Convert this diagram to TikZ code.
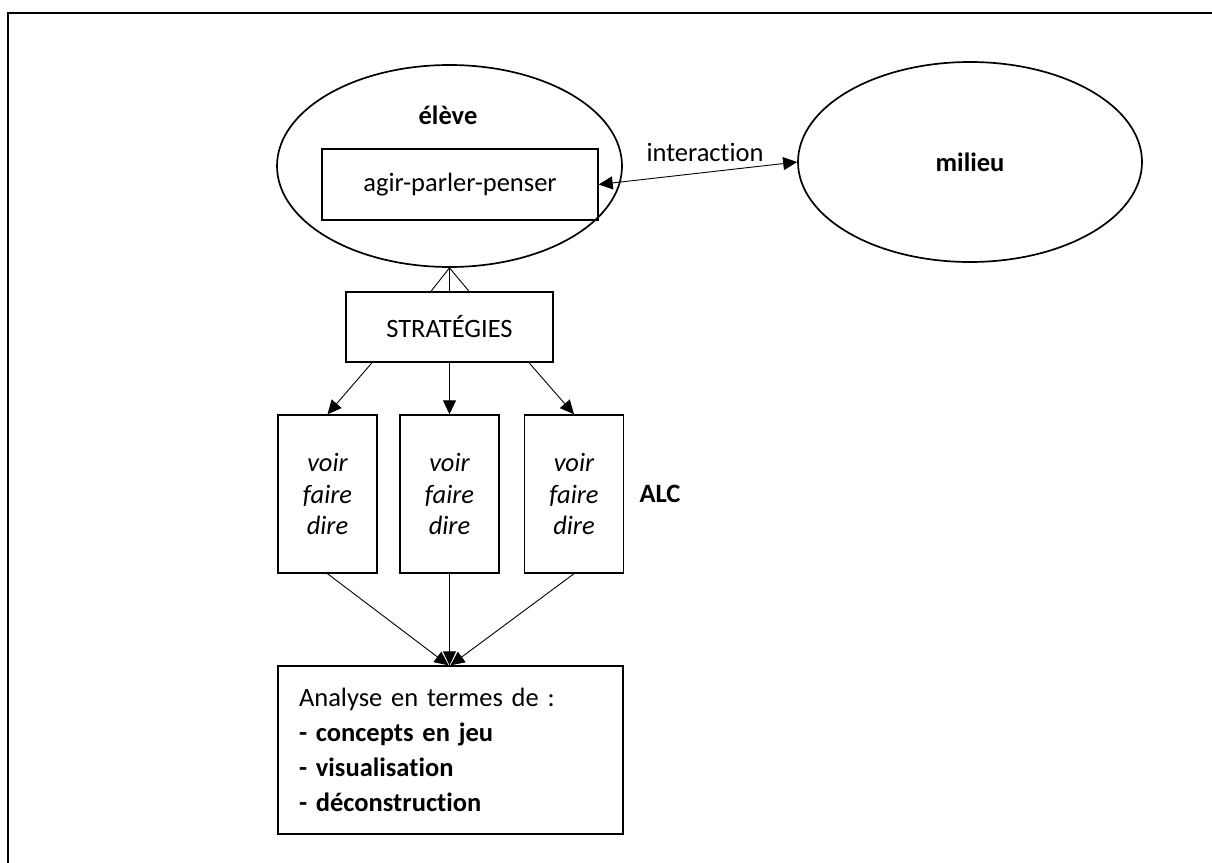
\documentclass[tikz,border=0pt]{standalone}
\usepackage{fontspec}
\setmainfont{Carlito}[Ligatures={NoCommon,NoContextual}]
\usetikzlibrary{shapes.geometric,arrows.meta}
\begin{document}
\begin{tikzpicture}[x=1pt,y=-1pt,
  every node/.style={font=\fontsize{26.5}{31.5}\selectfont},
  oval/.style={ellipse,draw,line width=1.7pt,inner sep=0pt},
  boxnode/.style={rectangle,draw,line width=1.4pt,inner sep=0pt},
  conn/.style={line width=0.9pt},
  arr/.style={conn,-{Triangle[length=14pt,width=13pt]}},
  lbl/.style={inner sep=0pt}
]
\useasboundingbox (0,0) rectangle (1212,862);
% frame
\draw[line width=2.4pt] (1215,13) -- (8,13) -- (8,865);

\node[oval,minimum width=345pt,minimum height=202pt] (eleve) at (449.5,166) {};
\node[lbl,font=\fontsize{26.5}{31.5}\selectfont\bfseries] (elevet) at (448,115) {élève};
\node[boxnode,minimum width=276pt,minimum height=71pt] (agir) at (460,184.5) {agir-parler-penser};

\node[oval,minimum width=344pt,minimum height=200pt,font=\fontsize{26.5}{31.5}\selectfont\bfseries] (milieu) at (970,162) {milieu};

\draw[conn,{Triangle[length=14pt,width=13pt]}-{Triangle[length=14pt,width=13pt]}] (agir.east) -- (milieu.west);
\node[lbl] (inter) at (705,152) {interaction};

\node[boxnode,minimum width=207pt,minimum height=70pt] (strat) at (449.5,327) {STRATÉGIES};
\draw[conn] (eleve.south) -- ([xshift=-18.5pt]strat.north);
\draw[conn] (eleve.south) -- (strat.north);
\draw[conn] (eleve.south) -- ([xshift=19.5pt]strat.north);

\tikzset{vfd/.style={boxnode,minimum width=99pt,minimum height=158pt,align=center,
  font=\fontsize{26.5}{31.5}\selectfont\itshape}}
\node[vfd] (v1) at (327.5,494) {voir\\faire\\dire};
\node[vfd] (v2) at (449.5,494) {voir\\faire\\dire};
\node[vfd] (v3) at (574,494) {voir\\faire\\dire};
\node[lbl,font=\fontsize{26.5}{31.5}\selectfont\bfseries] (alc) at (660,494) {ALC};

\draw[arr] ([xshift=-77.5pt]strat.south) -- (v1.north);
\draw[arr] (strat.south) -- (v2.north);
\draw[arr] ([xshift=79.5pt]strat.south) -- (v3.north);

\node[boxnode,minimum height=168pt,text width=303pt,inner xsep=21pt,align=left,
  font=\fontsize{26.5}{35}\selectfont] (ana) at (450.5,750)
  {Analyse en termes de :\\\textbf{- concepts en jeu}\\\textbf{- visualisation}\\\textbf{- déconstruction}};

\draw[arr] (v1.south) -- ([xshift=-2pt]ana.north);
\draw[arr] (v2.south) -- ([xshift=-1pt]ana.north);
\draw[arr] (v3.south) -- ([xshift=0pt]ana.north);
\end{tikzpicture}
\end{document}
